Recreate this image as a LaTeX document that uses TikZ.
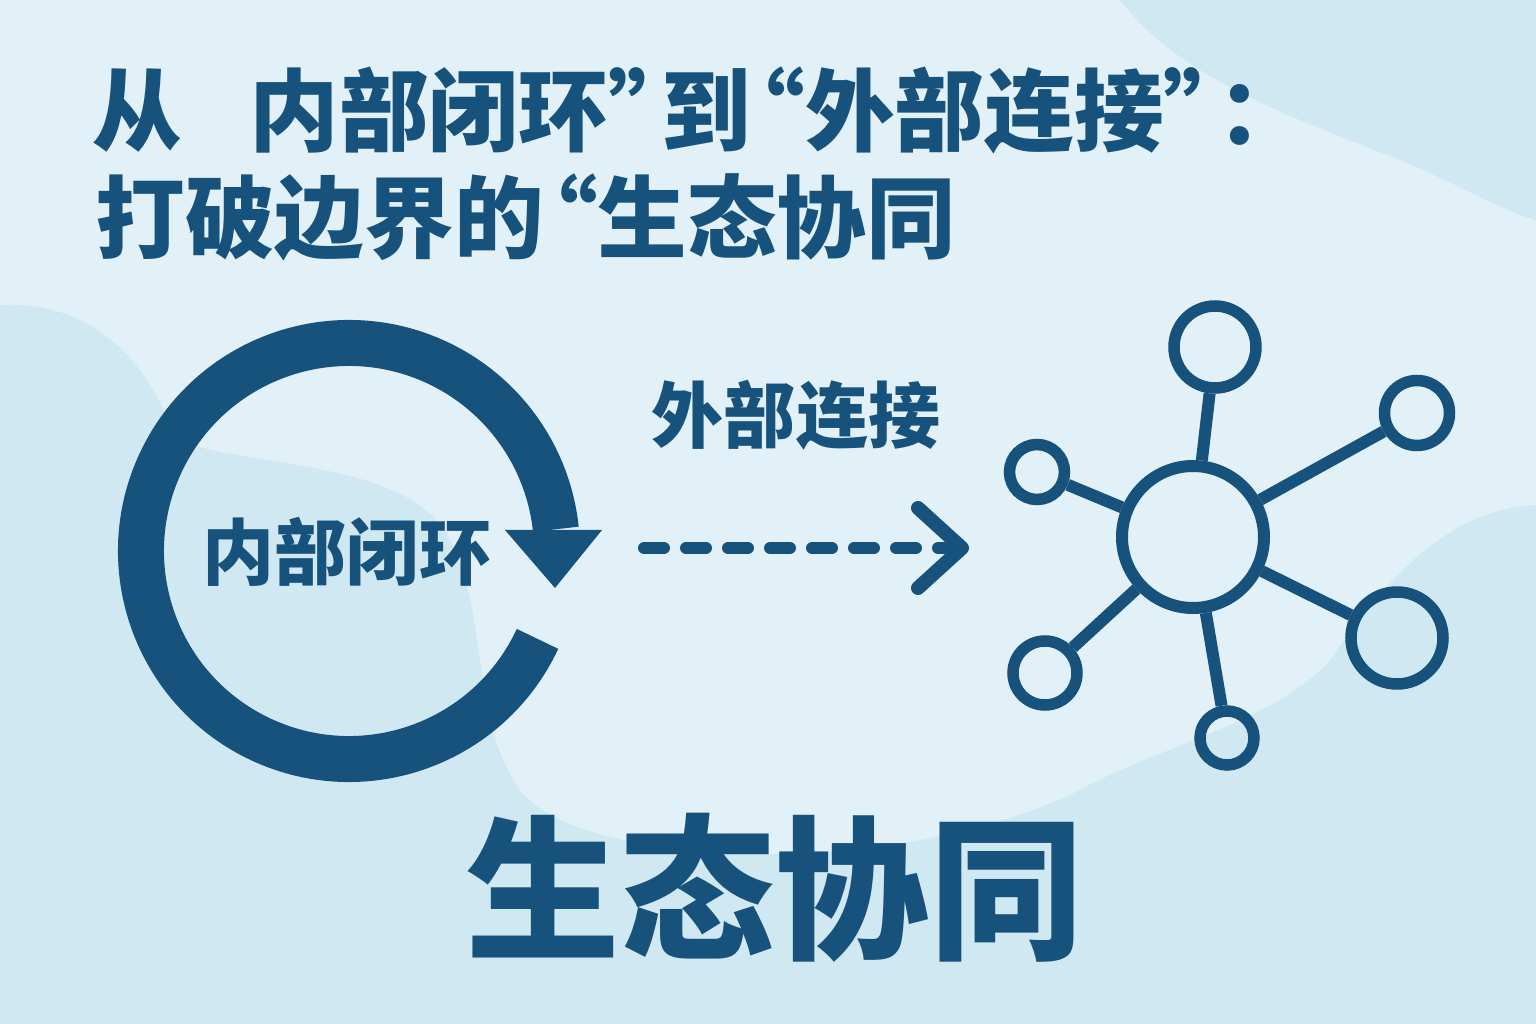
\documentclass[tikz,border=0pt]{standalone}
\usepackage{fontspec}
\newfontfamily\cjk{Noto Sans CJK SC}
\usetikzlibrary{calc}
\definecolor{deepblue}{HTML}{16527C}
\definecolor{paleblue}{HTML}{E2F1F7}
\definecolor{blobblue}{HTML}{D0E8F1}
% narrow quotes
\newcommand{\openq}{\makebox[0.6em][r]{“}}
\newcommand{\closeq}{\makebox[0.6em][l]{”}}

\begin{document}
\begin{tikzpicture}[x=0.1mm, y=0.1mm,
  every node/.style = {inner sep=0, text=deepblue},
  heading/.style = {anchor=west, font=\cjk\bfseries\fontsize{25.5pt}{30pt}\selectfont},
  label/.style = {font=\cjk\bfseries\fontsize{20.5pt}{24pt}\selectfont},
  hub/.style = {shape=circle, draw=deepblue, line width=1.2mm, minimum size=14.2mm},
  leaf/.style = {shape=circle, draw=deepblue, line width=1.15mm, minimum size=#1},
  spoke/.style = {draw=deepblue, line width=1.2mm},
  ringline/.style = {draw=deepblue, line width=4.6mm}]
  \useasboundingbox (0,0) rectangle (1536,-1024);

  % background
  \fill[paleblue] (0,0) rectangle (1536,-1024);
  \fill[blobblue] (1120,0) .. controls (1180,-80) and (1300,-120) .. (1400,-160)
    .. controls (1460,-185) and (1500,-210) .. (1536,-220) -- (1536,0) -- cycle;
  \fill[blobblue] (0,-305) .. controls (90,-300) and (150,-360) .. (175,-440)
    .. controls (260,-470) and (410,-460) .. (450,-540)
    .. controls (490,-620) and (470,-720) .. (520,-790)
    .. controls (580,-870) and (900,-880) .. (1080,-790)
    .. controls (1150,-750) and (1280,-720) .. (1330,-660)
    .. controls (1380,-590) and (1440,-510) .. (1536,-505)
    -- (1536,-1024) -- (0,-1024) -- cycle;

  % title
  \node[heading] (title1) at (92,-110) {从\hspace{0.75em}内部闭环\closeq 到\openq 外部连接\closeq ：};
  \node[heading] (title2) at (95,-217) {打破边界的\openq 生态协同};

  % inner loop
  \coordinate (loop) at (349,-551);
  \draw[ringline] ($(loop)+(-25:208)$) arc[start angle=-25, end angle=-354, radius=208];
  \fill[deepblue] ($(loop)+(156,21)$) -- ($(loop)+(253,21)$) -- ($(loop)+(206,-37)$) -- cycle;
  \node[label] (inner) at (347,-552) {内部闭环};

  % dashed link
  \coordinate (dstart) at (644,-548);
  \coordinate (dend) at (962,-548);
  \draw[deepblue, line width=1.2mm, line cap=round, dash pattern=on 2mm off 2.2mm]
    (dstart) -- ($(dend)+(-12,0)$);
  \draw[deepblue, line width=1.4mm, line cap=round, line join=round]
    ($(dend)+(-44,40)$) -- (dend) -- ($(dend)+(-44,-40)$);
  \node[label] (outer) at (796,-415) {外部连接};

  % network
  \node[hub] (core) at (1193,-537) {};
  \node[leaf=8.2mm] (n1) at (1215,-347) {};
  \node[leaf=6.5mm] (n2) at (1417,-413) {};
  \node[leaf=5.5mm] (n3) at (1037,-472) {};
  \node[leaf=6.4mm] (n4) at (1045,-673) {};
  \node[leaf=5.4mm] (n5) at (1227,-738) {};
  \node[leaf=9.2mm] (n6) at (1397,-638) {};
  \foreach \n in {n1,n2,n3,n4,n5,n6}
    \draw[spoke] (core) -- (\n);

  \node[font=\cjk\bfseries\fontsize{44pt}{50pt}\selectfont] (eco) at (775,-888) {生态协同};
\end{tikzpicture}
\end{document}
